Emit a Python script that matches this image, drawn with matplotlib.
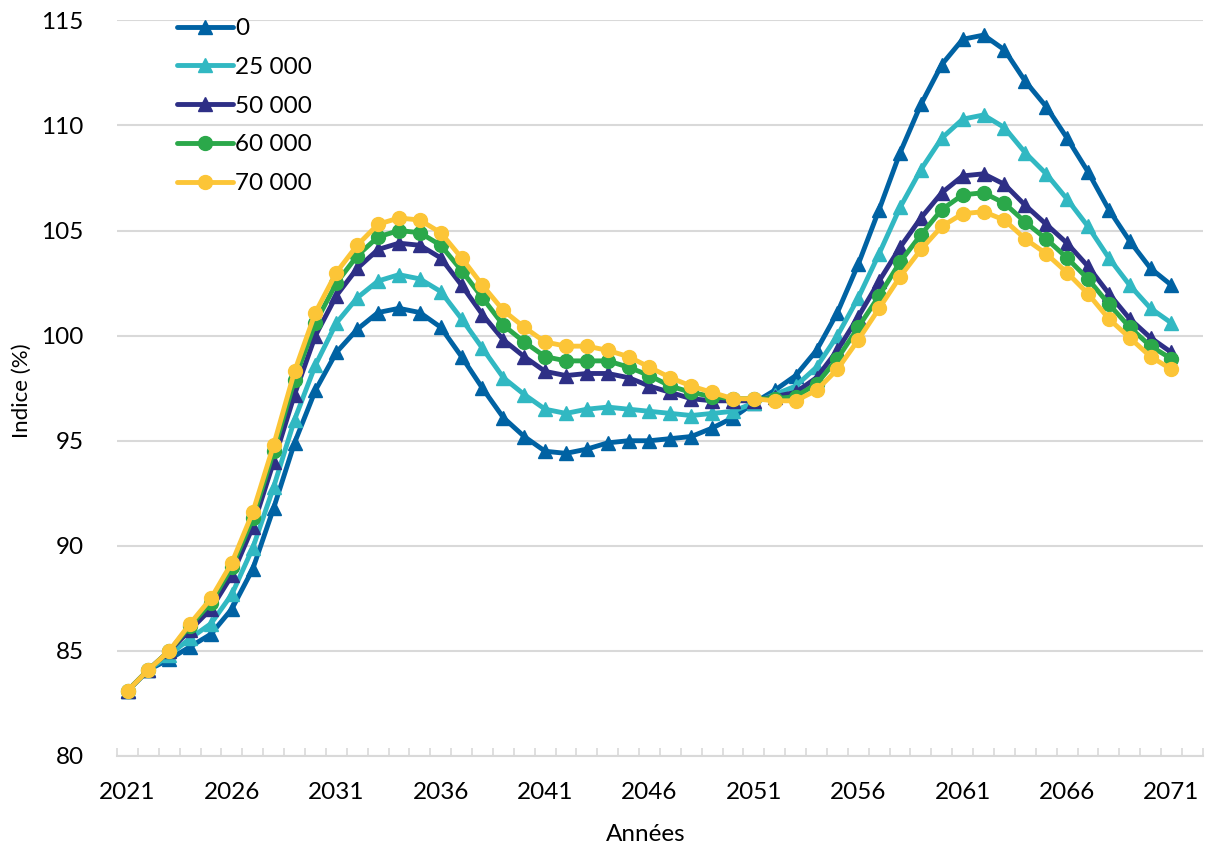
import matplotlib
matplotlib.use('Agg')
import matplotlib.pyplot as plt
import numpy as np

plt.rcParams['font.family'] = ['Lato', 'DejaVu Sans']

years = list(range(2021, 2072))

s0 = [83.1, 84.1, 84.6, 85.2, 85.8, 87.0, 88.9, 91.8, 94.9, 97.4,
      99.2, 100.3, 101.1, 101.3, 101.1, 100.4, 99.0, 97.5, 96.1, 95.2,
      94.5, 94.4, 94.6, 94.9, 95.0, 95.0, 95.1, 95.2, 95.6, 96.1,
      96.8, 97.4, 98.1, 99.3, 101.1, 103.4, 106.0, 108.7, 111.0, 112.9,
      114.1, 114.3, 113.6, 112.1, 110.9, 109.4, 107.8, 106.0, 104.5, 103.2,
      102.4]
s25 = [83.1, 84.1, 84.8, 85.6, 86.3, 87.7, 89.9, 92.8, 96.0, 98.6,
       100.6, 101.8, 102.6, 102.9, 102.7, 102.1, 100.8, 99.4, 98.0, 97.2,
       96.5, 96.3, 96.5, 96.6, 96.5, 96.4, 96.3, 96.2, 96.3, 96.4,
       96.8, 97.2, 97.6, 98.5, 100.0, 101.8, 103.9, 106.1, 107.9, 109.4,
       110.3, 110.5, 109.9, 108.7, 107.7, 106.5, 105.2, 103.7, 102.4, 101.3,
       100.6]
s50 = [83.1, 84.1, 85.0, 86.0, 87.0, 88.6, 90.9, 94.0, 97.2, 100.0,
       101.9, 103.2, 104.1, 104.4, 104.3, 103.7, 102.4, 101.0, 99.8, 99.0,
       98.3, 98.1, 98.2, 98.2, 98.0, 97.6, 97.3, 97.0, 96.9, 96.9,
       96.9, 97.1, 97.3, 98.0, 99.3, 100.9, 102.6, 104.2, 105.6, 106.8,
       107.6, 107.7, 107.2, 106.2, 105.3, 104.4, 103.3, 102.0, 100.8, 99.9,
       99.2]
s60 = [83.1, 84.1, 85.0, 86.2, 87.3, 89.0, 91.3, 94.5, 97.9, 100.6,
       102.5, 103.8, 104.7, 105.0, 104.9, 104.3, 103.1, 101.8, 100.5, 99.7,
       99.0, 98.8, 98.8, 98.8, 98.5, 98.1, 97.6, 97.3, 97.1, 97.0,
       97.0, 97.0, 97.1, 97.7, 98.9, 100.4, 101.9, 103.5, 104.8, 106.0,
       106.7, 106.8, 106.3, 105.4, 104.6, 103.7, 102.7, 101.5, 100.4, 99.5,
       98.9]
s70 = [83.1, 84.1, 85.0, 86.3, 87.5, 89.2, 91.6, 94.8, 98.3, 101.1,
       103.0, 104.3, 105.3, 105.6, 105.5, 104.9, 103.7, 102.4, 101.2, 100.4,
       99.7, 99.5, 99.5, 99.3, 99.0, 98.5, 98.0, 97.6, 97.3, 97.0,
       97.0, 96.9, 96.9, 97.4, 98.4, 99.8, 101.3, 102.8, 104.1, 105.2,
       105.8, 105.9, 105.5, 104.6, 103.9, 103.0, 102.0, 100.8, 99.9, 99.0,
       98.4]

labels = ['0', '25 000', '50 000', '60 000', '70 000']
series = [s0, s25, s50, s60, s70]
colors = ['#0062A3', '#31B8C2', '#2E2F86', '#2BA84A', '#FCC537']
markers = ['^', '^', '^', 'o', 'o']

fig = plt.figure(figsize=(12.07, 8.5), dpi=100)
ax = fig.add_axes([0.097, 0.1106, 0.8995, 0.8654])

for lab, s, c, m in zip(labels, series, colors, markers):
    ax.plot(years, s, color=c, lw=3.5, marker=m, markersize=10, label=lab,
            solid_capstyle='round')

ax.set_xlim(2020.5, 2072.5)
ax.set_ylim(80, 115)
ax.set_yticks(np.arange(80, 116, 5))
ax.set_xticks(range(2021, 2072, 5))
ax.set_xticks(np.arange(2020.5, 2073, 1), minor=True)
ax.grid(axis='y', color='#d9d9d9', lw=1.5)
ax.set_axisbelow(True)

for sp in ['top', 'right', 'left']:
    ax.spines[sp].set_visible(False)
ax.spines['bottom'].set_color('#d9d9d9')
ax.spines['bottom'].set_linewidth(1.5)

ax.tick_params(axis='y', length=0, labelsize=17.5, pad=24)
ax.tick_params(axis='x', which='major', length=0, labelsize=17.5, pad=19)
ax.tick_params(axis='x', which='minor', direction='in', length=6,
               width=1.2, color='#d9d9d9')

ax.set_xlabel('Années', fontsize=17.5)
ax.set_ylabel('Indice (%)', fontsize=16)
ax.xaxis.set_label_coords(0.487, -0.107)
ax.yaxis.set_label_coords(-0.0875, 0.497)
ax.xaxis.label.set_va('center')
ax.yaxis.label.set_va('center')

ax.legend(loc='upper left', bbox_to_anchor=(0.035, 1.033), frameon=False,
          fontsize=17.5, handlelength=2.3, handletextpad=0.1,
          labelspacing=0.73)

fig.savefig('out.png', dpi=100)
